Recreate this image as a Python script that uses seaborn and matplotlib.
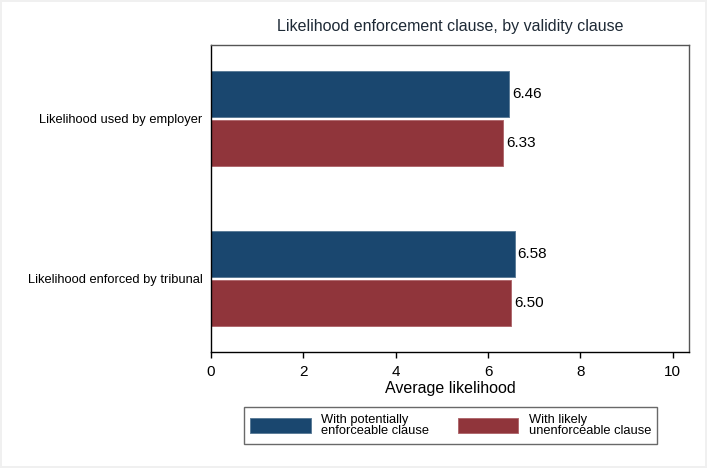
import pandas as pd
import seaborn as sns
import matplotlib.pyplot as plt

# values
categories = ['Likelihood used by employer', 'Likelihood enforced by tribunal']
groups = ['With potentially\nenforceable clause', 'With likely\nunenforceable clause']
enforceable = [6.46, 6.58]
unenforceable = [6.33, 6.50]
x_ticks = [0, 2, 4, 6, 8, 10]

colors = ['#1a476f', '#90353b']
edge_colors = ['#5d7d99', '#b06a6f']

df = pd.DataFrame({
    'category': categories * 2,
    'group': [groups[0]] * len(categories) + [groups[1]] * len(categories),
    'value': enforceable + unenforceable,
})

sns.set_style('white')
plt.rcParams['font.family'] = ['Liberation Sans', 'DejaVu Sans']
plt.rcParams['text.color'] = 'black'
plt.rcParams['xtick.color'] = 'black'
plt.rcParams['ytick.color'] = 'black'
plt.rcParams['axes.labelcolor'] = 'black'

fig = plt.figure(figsize=(7.07, 4.68), dpi=100)
fig.patch.set_edgecolor('#f0f0f0')
fig.patch.set_linewidth(1.5)
ax = fig.add_axes([211 / 707, 1 - 352 / 468, 478 / 707, 307 / 468])

sns.barplot(data=df, y='category', x='value', hue='group', hue_order=groups,
            order=categories, palette=colors, orient='h', width=0.616, gap=0.06,
            saturation=1, ax=ax, legend=False)

for cont, ec in zip(ax.containers, edge_colors):
    for bar in cont:
        bar.set_edgecolor(ec)
        bar.set_linewidth(0.7)
    ax.bar_label(cont, fmt='%.2f', padding=2, fontsize=11, color='black')

ax.set_xlim(0, 10.35)
ax.set_ylim(1.465, -0.465)
ax.set_xticks(x_ticks)
ax.set_xticklabels([str(t) for t in x_ticks], fontsize=11)
ax.tick_params(axis='x', length=4, width=1, color='black', pad=5, direction='out', bottom=True)
ax.tick_params(axis='y', length=0, pad=6, labelsize=9.3)
ax.set_ylabel('')
ax.set_xlabel('Average likelihood', fontsize=11.5, labelpad=2)
ax.set_title('Likelihood enforcement clause, by validity clause', fontsize=11.5,
             color='#1e2a36', pad=10)

for side in ['left', 'bottom']:
    ax.spines[side].set_color('black')
    ax.spines[side].set_linewidth(1)
for side in ['top', 'right']:
    ax.spines[side].set_color('#555555')
    ax.spines[side].set_linewidth(1)

handles = [plt.Rectangle((0, 0), 1, 1, facecolor=c, edgecolor=e, linewidth=0.7)
           for c, e in zip(colors, edge_colors)]
leg = fig.legend(handles, groups, loc='center', bbox_to_anchor=(450.5 / 707, 1 - 425.5 / 468),
                 ncol=2, fontsize=9.3, frameon=True, fancybox=False, handlelength=4.7,
                 handleheight=1.35, handletextpad=0.8, columnspacing=2.2,
                 borderpad=0.5, borderaxespad=0)
leg.get_frame().set_edgecolor('#444444')
leg.get_frame().set_linewidth(1)
for t in leg.get_texts():
    t.set_linespacing(1.0)

fig.savefig('out.png', dpi=100)
